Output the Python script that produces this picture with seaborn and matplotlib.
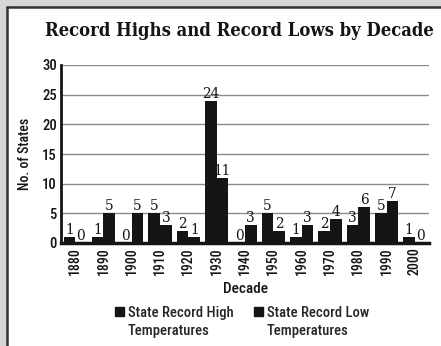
import matplotlib
matplotlib.use("Agg")
import matplotlib.pyplot as plt
import matplotlib.patches as mpatches
from matplotlib.lines import Line2D
from matplotlib.legend_handler import HandlerPatch
import seaborn as sns
import pandas as pd

decades = ["1880", "1890", "1900", "1910", "1920", "1930", "1940",
           "1950", "1960", "1970", "1980", "1990", "2000"]
record_highs = [1, 1, 0, 5, 2, 24, 0, 5, 1, 2, 3, 5, 1]
record_lows = [0, 5, 5, 3, 1, 11, 3, 2, 3, 4, 6, 7, 0]
series_names = ["State Record High\nTemperatures", "State Record Low\nTemperatures"]
y_ticks = [0, 5, 10, 15, 20, 25, 30]

df = pd.DataFrame({
    "Decade": decades * 2,
    "States": record_highs + record_lows,
    "Series": [series_names[0]] * len(decades) + [series_names[1]] * len(decades),
})

sns.set_style("white")
cond = ["Roboto Condensed"]
serif = ["DejaVu Serif"]
ink = "#151515"

fig = plt.figure(figsize=(4.41, 3.46), dpi=100)
ax = fig.add_axes([61 / 441, 1 - 243 / 346, (429 - 61) / 441, (243 - 65) / 346])

sns.barplot(data=df, x="Decade", y="States", hue="Series",
            palette=[ink, ink], width=0.82, saturation=1, linewidth=0,
            ax=ax, legend=False)

for cont, vals in zip(ax.containers, [record_highs, record_lows]):
    ax.bar_label(cont, labels=[str(v) for v in vals], padding=0,
                 fontsize=11, family=serif, fontstretch="condensed",
                 color=ink)

ax.set_ylim(0, 30)
ax.set_xlim(-0.5, len(decades) - 0.5)
ax.set_yticks(y_ticks)
ax.set_yticklabels([str(t) for t in y_ticks], fontsize=10.5, family=cond,
                   fontweight="medium", color=ink)
ax.set_xticks(range(len(decades)))
ax.set_xticklabels(decades, rotation=90, fontsize=10, family=cond,
                   fontweight="medium", color=ink)
ax.tick_params(axis="both", length=0, pad=3)
for y in y_ticks[1:]:
    ax.axhline(y, color="#8a8a8a", lw=1, zorder=0)
ax.set_axisbelow(True)

for s in ["top", "right"]:
    ax.spines[s].set_visible(False)
ax.spines["left"].set_linewidth(2)
ax.spines["bottom"].set_linewidth(2.5)
ax.spines["left"].set_color(ink)
ax.spines["bottom"].set_color(ink)

ax.set_xlabel("Decade", fontsize=11, family=cond, fontweight="medium",
              color=ink, labelpad=5)
ax.set_ylabel("No. of States", fontsize=10, family=cond, fontweight="medium",
              color=ink, labelpad=7)

fig.text(239 / 441, 1 - 31 / 346, "Record Highs and Record Lows by Decade",
         ha="center", va="center", fontsize=13.2, fontweight="bold",
         family=serif, fontstretch="condensed", color=ink)


def raised_square(legend, orig_handle, xdescent, ydescent, width, height, fontsize):
    # square key lifted to sit beside the first line of the two-line label
    return mpatches.Rectangle((-xdescent, -ydescent + 0.75 * fontsize), width, height)


handles = [mpatches.Patch(color=ink, label=n) for n in series_names]
leg = fig.legend(handles=handles, loc="center", bbox_to_anchor=(242 / 441, 1 - 322 / 346),
                 ncol=2, frameon=False,
                 prop={"family": cond, "weight": "medium", "size": 10.5},
                 handlelength=0.65, handleheight=0.65, handletextpad=0.25,
                 columnspacing=1.4,
                 handler_map={mpatches.Patch: HandlerPatch(patch_func=raised_square)})
for t in leg.get_texts():
    t.set_linespacing(1.45)

# page frame: gray margin on the left and top with a dark rule
fig.patches.append(mpatches.Rectangle((0, 0), 6 / 441, 1, transform=fig.transFigure,
                                      color="#d6d6d6", zorder=-1))
fig.patches.append(mpatches.Rectangle((0, 1 - 6 / 346), 1, 6 / 346,
                                      transform=fig.transFigure,
                                      color="#d6d6d6", zorder=-1))
fig.lines.append(Line2D([7 / 441, 7 / 441], [0, 1 - 7 / 346],
                        transform=fig.transFigure, color="#333333", lw=1.8))
fig.lines.append(Line2D([7 / 441, 1], [1 - 7 / 346, 1 - 7 / 346],
                        transform=fig.transFigure, color="#333333", lw=1.8))

fig.savefig("out.png", dpi=100, facecolor="white")
